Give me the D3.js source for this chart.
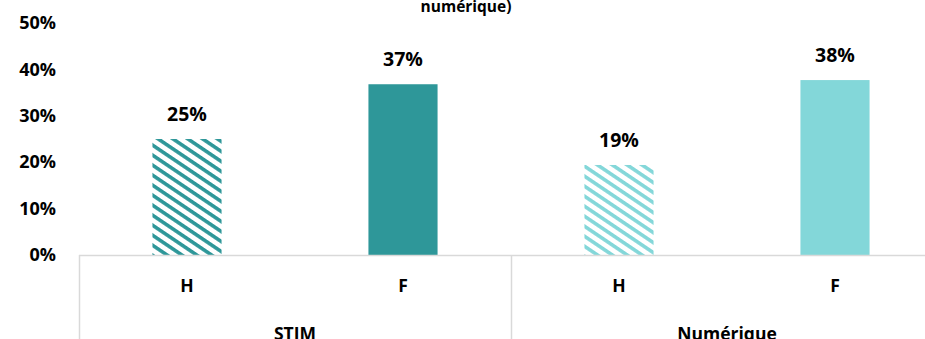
<!DOCTYPE html>
<html><head><meta charset="utf-8">
<script src="https://cdn.jsdelivr.net/npm/d3@7"></script>
<style>html,body{margin:0;padding:0;background:#fff;overflow:hidden}</style>
</head><body>
<script>
const groups = ["STIM", "Numérique"];
const sexes = ["H", "F"];
const valuesSTIM = [25.0, 36.8];
const valuesNum = [19.4, 37.7];
const labelsSTIM = ["25%", "37%"];
const labelsNum = ["19%", "38%"];
const yTicks = [0, 10, 20, 30, 40, 50];
const titleText = "numérique)";

const data = [];
groups.forEach((g, gi) => {
  const vals = gi === 0 ? valuesSTIM : valuesNum;
  const labs = gi === 0 ? labelsSTIM : labelsNum;
  sexes.forEach((s, si) => data.push({group: g, sex: s, value: vals[si], label: labs[si], gi, si}));
});

const W = 925, H = 339;
const FONT = "'Open Sans', Lato, sans-serif";
const svg = d3.select("body").append("svg").attr("width", W).attr("height", H)
  .style("font-family", FONT);

const dark = "#2e9799", light = "#83d7d9";
const defs = svg.append("defs");
[["hatchDark", dark], ["hatchLight", light]].forEach(([id, c]) => {
  const p = defs.append("pattern").attr("id", id).attr("patternUnits", "userSpaceOnUse")
    .attr("width", 20).attr("height", 8.3).attr("patternTransform", "rotate(34)");
  p.append("rect").attr("width", 20).attr("height", 8.3).attr("fill", "#fff");
  p.append("rect").attr("y", 0).attr("width", 20).attr("height", 3.6).attr("fill", c);
});

const x0 = d3.scaleBand().domain(groups).range([79, 943]).padding(0);
const x1 = d3.scaleBand().domain(sexes).range([0, x0.bandwidth()]).paddingInner(0.68).paddingOuter(0.34);
const y = d3.scaleLinear().domain([0, 50]).range([255, 23]);

// title fragment
svg.append("text").attr("x", 466).attr("y", 12).attr("text-anchor", "middle")
  .attr("font-size", 15.5).attr("font-weight", "bold").attr("fill", "#000").text(titleText);

// y tick labels
const yAxis = d3.axisLeft(y).tickValues(yTicks).tickFormat(d => d + "%").tickSize(0).tickPadding(0);
const ya = svg.append("g").attr("transform", "translate(56,0)").call(yAxis);
ya.select(".domain").remove();
ya.selectAll("text").attr("font-size", 18).attr("font-weight", "bold").attr("fill", "#000")
  .attr("font-family", FONT);

// bars
svg.append("g").selectAll("rect").data(data).join("rect")
  .attr("x", d => x0(d.group) + x1(d.sex))
  .attr("width", x1.bandwidth())
  .attr("y", d => y(d.value))
  .attr("height", d => y(0) - y(d.value))
  .attr("fill", d => d.si === 0 ? (d.gi === 0 ? "url(#hatchDark)" : "url(#hatchLight)") : (d.gi === 0 ? dark : light));

// value labels
svg.append("g").selectAll("text").data(data).join("text")
  .attr("x", d => x0(d.group) + x1(d.sex) + x1.bandwidth() / 2)
  .attr("y", d => y(d.value) - 18)
  .attr("text-anchor", "middle").attr("font-size", 19.5).attr("font-weight", "bold").attr("fill", "#000")
  .text(d => d.label);

// axis lines
const axisColor = "#d9d9d9";
svg.append("line").attr("x1", 79).attr("x2", W).attr("y1", 255.5).attr("y2", 255.5)
  .attr("stroke", axisColor).attr("stroke-width", 1.5);
const seps = [x0.range()[0], ...groups.map(g => x0(g) + x0.bandwidth())];
svg.append("g").selectAll("line").data(seps).join("line")
  .attr("x1", d => d + 0.5).attr("x2", d => d + 0.5).attr("y1", 255).attr("y2", H)
  .attr("stroke", axisColor).attr("stroke-width", 1.5);

// inner category labels
svg.append("g").selectAll("text").data(data).join("text")
  .attr("x", d => x0(d.group) + x1(d.sex) + x1.bandwidth() / 2)
  .attr("y", 292).attr("text-anchor", "middle").attr("font-size", 17.5).attr("font-weight", "bold")
  .attr("fill", "#000").text(d => d.sex);

// outer group labels
svg.append("g").selectAll("text").data(groups).join("text")
  .attr("x", d => x0(d) + x0.bandwidth() / 2).attr("y", 340)
  .attr("text-anchor", "middle").attr("font-size", 17.5).attr("font-weight", "bold")
  .attr("fill", "#000").text(d => d);
</script>
</body></html>
